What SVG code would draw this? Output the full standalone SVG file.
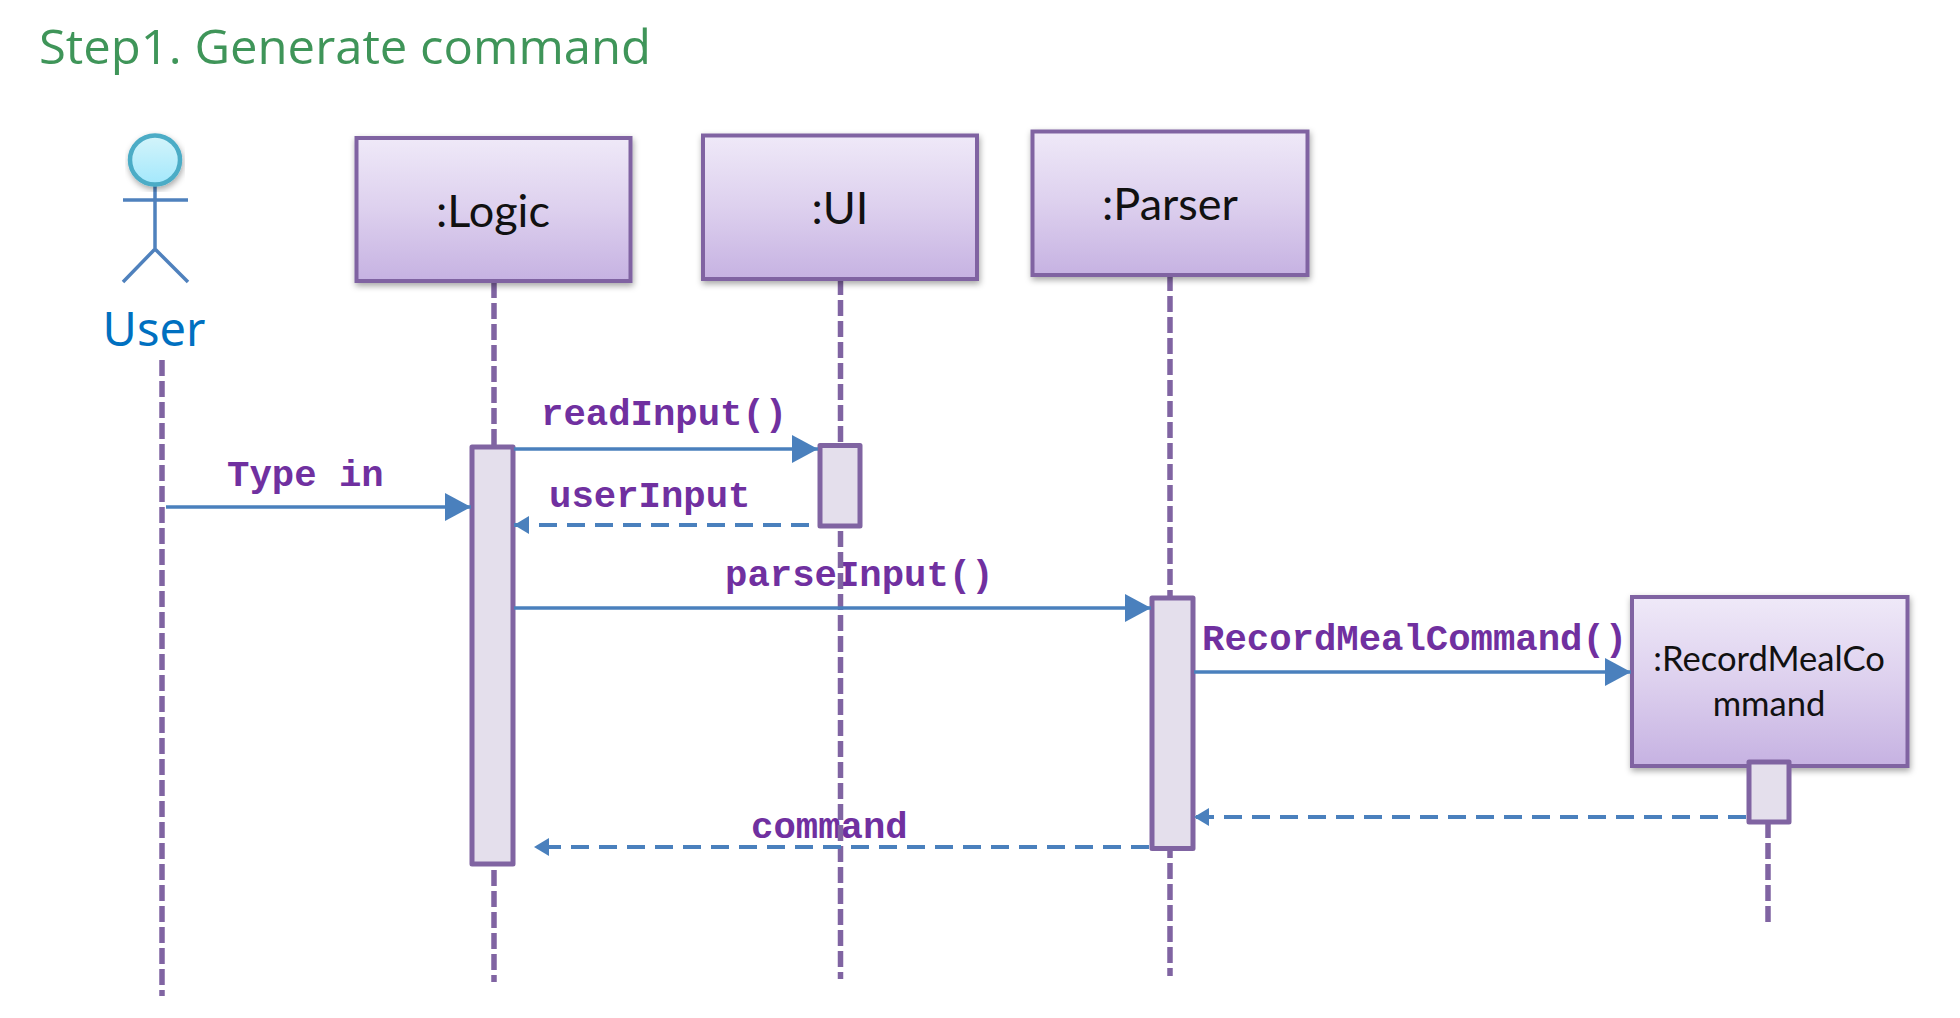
<svg xmlns="http://www.w3.org/2000/svg" width="1960" height="1018" viewBox="0 0 1960 1018">
<defs>
<linearGradient id="boxFill" x1="0" y1="0" x2="0" y2="1"><stop offset="0" stop-color="#EFE9F8"/><stop offset="0.5" stop-color="#DDD0EE"/><stop offset="1" stop-color="#C6B2E2"/></linearGradient>
<linearGradient id="headFill" x1="0" y1="0" x2="0" y2="1"><stop offset="0" stop-color="#D4F4FA"/><stop offset="1" stop-color="#A3E8FC"/></linearGradient>
<filter id="shadow" x="-10%" y="-10%" width="120%" height="125%"><feDropShadow dx="1" dy="3" stdDeviation="3" flood-color="#000" flood-opacity="0.35"/></filter>
<marker id="big" markerUnits="userSpaceOnUse" markerWidth="27" markerHeight="28" refX="26" refY="14" orient="auto"><path d="M0 0L26 14L0 28Z" fill="#4A80BD"/></marker>
<marker id="small" markerUnits="userSpaceOnUse" markerWidth="16" markerHeight="18" refX="15" refY="9" orient="auto"><path d="M0 0L15 9L0 18Z" fill="#4A80BD"/></marker>
</defs>
<style>
.box{fill:url(#boxFill);stroke:#8064A2;stroke-width:4;filter:url(#shadow)}
.act{fill:#E4DFEC;stroke:#8064A2;stroke-width:5;stroke-linejoin:round}
.life{fill:none;stroke:#8064A2;stroke-width:5.5;stroke-dasharray:16 5}
.msg{fill:none;stroke:#4A80BD;stroke-width:3.5;marker-end:url(#big)}
.ret{fill:none;stroke:#4A80BD;stroke-width:4;stroke-dasharray:18 10;marker-end:url(#small)}
.lbl{font-family:"Liberation Mono",monospace;font-weight:700;font-size:37.3px;fill:#7030A0}
.name{font-family:Lato,"Open Sans",sans-serif;fill:#111;text-anchor:middle;font-size:45px}
.small{font-size:34.6px}
.stick{fill:none;stroke:#4F81BD;stroke-width:3.5}
</style>
<rect width="1960" height="1018" fill="#fff"/>
<text id="title" x="39" y="64" font-family="'Open Sans',sans-serif" font-size="48" fill="#3F9559" textLength="612" lengthAdjust="spacingAndGlyphs">Step1. Generate command</text>
<g id="connectors">
<text class="lbl" x="227" y="486">Type in</text>
<text class="lbl" x="541" y="425">readInput()</text>
<text class="lbl" x="549" y="507">userInput</text>
<text class="lbl" x="725" y="586">parseInput()</text>
<text class="lbl" x="751" y="838">command</text>
<text class="lbl" x="1202" y="650">RecordMealCommand()</text>
<path class="life" d="M162 360V996"/>
<path class="life" d="M494 282V982"/>
<path class="life" d="M840.500 279V979"/>
<path class="life" d="M1170 275V976"/>
<path class="life" d="M1768 822V926"/>
</g>
<g id="user">
<path class="stick" d="M155 185V249M123 200H188M123 282L155 249L188 282"/>
<ellipse cx="155" cy="160" rx="25" ry="24.500" fill="url(#headFill)" stroke="#4BACC6" stroke-width="4.500" filter="url(#shadow)"/>
<text x="154" y="346" font-family="'Noto Sans',sans-serif" font-size="47" fill="#0070C0" text-anchor="middle">User</text>
</g>
<g id="logic">
<rect class="box" x="356.500" y="138" width="274" height="143"/>
<text class="name" x="493" y="227">:Logic</text>
<rect class="act" x="472" y="447" width="41" height="417"/>
</g>
<g id="ui">
<rect class="box" x="703" y="135.500" width="274" height="143.500"/>
<text class="name" x="840" y="224">:UI</text>
<rect class="act" x="820" y="445.500" width="40" height="80.500"/>
</g>
<g id="parser">
<rect class="box" x="1032.500" y="131.500" width="275" height="143.500"/>
<text class="name" x="1170" y="220">:Parser</text>
<rect class="act" x="1152" y="598" width="41" height="250.500"/>
</g>
<g id="recordmealcommand">
<rect class="box" x="1632" y="597" width="275.500" height="169"/>
<text class="name small" x="1769" y="671">:RecordMealCo</text>
<text class="name small" x="1769" y="716">mmand</text>
<rect class="act" x="1749" y="762" width="40" height="60"/>
</g>
<g id="messages">
<path class="msg" d="M166 507H471"/>
<path class="msg" d="M514 449H818"/>
<path class="ret" d="M809 525H514"/>
<path class="msg" d="M514 608H1151"/>
<path class="msg" d="M1194 672H1631"/>
<path class="ret" d="M1746 817H1194"/>
<path class="ret" d="M1149 847H534"/>
</g>
</svg>
